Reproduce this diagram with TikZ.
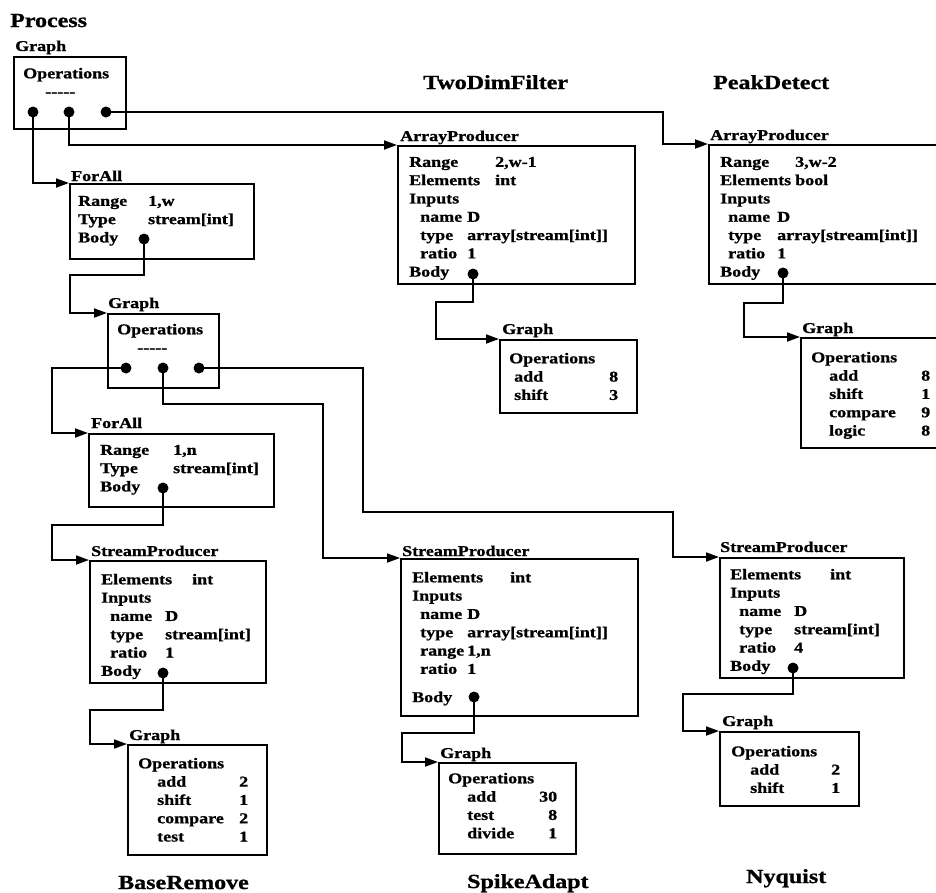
\documentclass[tikz,border=0pt]{standalone}
\usepackage{fontspec}
\setmainfont{Liberation Serif}[FakeStretch=1.2, BoldFeatures={FakeBold=1}]
\usetikzlibrary{arrows.meta}
\newcommand{\dashes}{\hbox{-}\hbox{-}\hbox{-}\hbox{-}\hbox{-}}
\newcommand{\kv}[3]{\makebox[#1][l]{#2}#3}
\newcommand{\op}[3]{\makebox[#1][l]{#2\hfill #3}}
\begin{document}
\begin{tikzpicture}[x=1pt,y=-1pt,
  box/.style={draw, line width=1.9pt, rectangle, inner sep=0pt, anchor=north west},
  lbl/.style={anchor=base west, inner sep=0pt, font=\fontsize{15}{18.3}\selectfont\bfseries},
  txt/.style={anchor=north west, inner sep=0pt, align=left, font=\fontsize{15}{18.3}\selectfont\bfseries},
  ttl/.style={anchor=base west, inner sep=0pt, font=\fontsize{20}{24}\selectfont\bfseries},
  dot/.style={circle, fill, inner sep=0pt, minimum size=11pt},
  conn/.style={line width=1.9pt, -{Triangle[length=13pt,width=9pt]}},
]
\useasboundingbox (0,0) rectangle (936,892);
\clip (0,0) rectangle (936,892);

% titles
\node[ttl] (tProcess) at (10,27) {Process};
\node[ttl] (tTwo) at (423,89) {TwoDimFilter};
\node[ttl] (tPeak) at (713,89) {PeakDetect};
\node[ttl] (tBase) at (118,889) {BaseRemove};
\node[ttl] (tSpike) at (467,888) {SpikeAdapt};
\node[ttl] (tNyq) at (746,883) {Nyquist};

% top graph
\node[box, minimum width=112pt, minimum height=72pt] (g0) at (13,56) {};
\node[lbl] (g0l) at (15,51) {Graph};
\node[txt] (g0t) at (23,67.7) {Operations\\\hspace{22pt}\dashes};
\node[dot] (g0d1) at (33,112) {};
\node[dot] (g0d2) at (69,112) {};
\node[dot] (g0d3) at (106,112) {};

% ForAll 1
\node[box, minimum width=184pt, minimum height=75pt] (fa1) at (69,183) {};
\node[lbl] (fa1l) at (71,181) {ForAll};
\node[txt] (fa1t) at (78,195.7) {\kv{70pt}{Range}{1,w}\\\kv{70pt}{Type}{stream[int]}\\Body};
\node[dot] (fa1d) at (144,239) {};

% ArrayProducer 1
\node[box, minimum width=237pt, minimum height=138pt] (ap1) at (397,145) {};
\node[lbl] (ap1l) at (400,141) {ArrayProducer};
\node[txt] (ap1t) at (409,156.7) {\kv{86pt}{Range}{2,w-1}\\\kv{86pt}{Elements}{int}\\Inputs\\
\hspace{11pt}\kv{47pt}{name}{D}\\\hspace{11pt}\kv{47pt}{type}{array[stream[int]]}\\\hspace{11pt}\kv{47pt}{ratio}{1}\\Body};
\node[dot] (ap1d) at (473,274) {};

% ArrayProducer 2
\node[box, minimum width=250pt, minimum height=139pt] (ap2) at (708,144) {};
\node[lbl] (ap2l) at (710,140) {ArrayProducer};
\node[txt] (ap2t) at (720,156.7) {\kv{75pt}{Range}{3,w-2}\\\kv{75pt}{Elements}{bool}\\Inputs\\
\hspace{8pt}\kv{49pt}{name}{D}\\\hspace{8pt}\kv{49pt}{type}{array[stream[int]]}\\\hspace{8pt}\kv{49pt}{ratio}{1}\\Body};
\node[dot] (ap2d) at (783,273) {};

% Graph under AP1
\node[box, minimum width=137pt, minimum height=73pt] (g2) at (499,339) {};
\node[lbl] (g2l) at (502,334) {Graph};
\node[txt] (g2t) at (509,352.7) {Operations\\\hspace{5pt}\op{104pt}{add}{8}\\\hspace{5pt}\op{104pt}{shift}{3}};

% Graph under AP2
\node[box, minimum width=150pt, minimum height=110pt] (g3) at (800,337) {};
\node[lbl] (g3l) at (802,333) {Graph};
\node[txt] (g3t) at (811,351.7) {Operations\\\hspace{18pt}\op{101pt}{add}{8}\\\hspace{18pt}\op{101pt}{shift}{1}\\
\hspace{18pt}\op{101pt}{compare}{9}\\\hspace{18pt}\op{101pt}{logic}{8}};

% second graph
\node[box, minimum width=111pt, minimum height=74pt] (g1) at (107,313) {};
\node[lbl] (g1l) at (108,308) {Graph};
\node[txt] (g1t) at (117,323.7) {Operations\\\hspace{20pt}\dashes};
\node[dot] (g1d1) at (126,368) {};
\node[dot] (g1d2) at (163,368) {};
\node[dot] (g1d3) at (199,368) {};

% ForAll 2
\node[box, minimum width=185pt, minimum height=73pt] (fa2) at (88,433) {};
\node[lbl] (fa2l) at (91,428) {ForAll};
\node[txt] (fa2t) at (100,444.7) {\kv{73pt}{Range}{1,n}\\\kv{73pt}{Type}{stream[int]}\\Body};
\node[dot] (fa2d) at (163,488) {};

% StreamProducer 1
\node[box, minimum width=176pt, minimum height=122pt] (sp1) at (89,560) {};
\node[lbl] (sp1l) at (91,556) {StreamProducer};
\node[txt] (sp1t) at (101,573.7) {\kv{91pt}{Elements}{int}\\Inputs\\
\hspace{9pt}\kv{55pt}{name}{D}\\\hspace{9pt}\kv{55pt}{type}{stream[int]}\\\hspace{9pt}\kv{55pt}{ratio}{1}\\Body};
\node[dot] (sp1d) at (163,673) {};

% StreamProducer 2
\node[box, minimum width=237pt, minimum height=157pt] (sp2) at (400,558) {};
\node[lbl] (sp2l) at (402,556) {StreamProducer};
\node[txt] (sp2t) at (412,571.7) {\kv{98pt}{Elements}{int}\\Inputs\\
\hspace{8pt}\kv{47pt}{name}{D}\\\hspace{8pt}\kv{47pt}{type}{array[stream[int]]}\\\hspace{8pt}\kv{47pt}{range}{1,n}\\\hspace{8pt}\kv{47pt}{ratio}{1}\\[10pt]Body};
\node[dot] (sp2d) at (474,697) {};

% StreamProducer 3
\node[box, minimum width=184pt, minimum height=120pt] (sp3) at (719,557) {};
\node[lbl] (sp3l) at (720,552) {StreamProducer};
\node[txt] (sp3t) at (730,568.7) {\kv{100pt}{Elements}{int}\\Inputs\\
\hspace{9pt}\kv{55pt}{name}{D}\\\hspace{9pt}\kv{55pt}{type}{stream[int]}\\\hspace{9pt}\kv{55pt}{ratio}{4}\\Body};
\node[dot] (sp3d) at (793,668) {};

% bottom graphs
\node[box, minimum width=139pt, minimum height=110pt] (g4) at (127,744) {};
\node[lbl] (g4l) at (129,740) {Graph};
\node[txt] (g4t) at (138,757.7) {Operations\\\hspace{19pt}\op{91pt}{add}{2}\\\hspace{19pt}\op{91pt}{shift}{1}\\
\hspace{19pt}\op{91pt}{compare}{2}\\\hspace{19pt}\op{91pt}{test}{1}};

\node[box, minimum width=137pt, minimum height=91pt] (g5) at (438,762) {};
\node[lbl] (g5l) at (440,758) {Graph};
\node[txt] (g5t) at (448,772.7) {Operations\\\hspace{19pt}\op{90pt}{add}{30}\\\hspace{19pt}\op{90pt}{test}{8}\\
\hspace{19pt}\op{90pt}{divide}{1}};

\node[box, minimum width=139pt, minimum height=74pt] (g6) at (719,731) {};
\node[lbl] (g6l) at (722,726) {Graph};
\node[txt] (g6t) at (731,745.7) {Operations\\\hspace{19pt}\op{90pt}{add}{2}\\\hspace{19pt}\op{90pt}{shift}{1}};

% bend coordinates
\coordinate (k3) at (663,112);
\coordinate (b4) at (70,275);
\coordinate (b5) at (52,433);
\coordinate (b6) at (323,404);
\coordinate (b7a) at (363,368);
\coordinate (b7b) at (673,512);
\coordinate (b8) at (52,525);
\coordinate (b9) at (90,710);
\coordinate (b10) at (402,733);
\coordinate (b11) at (683,694);
\coordinate (b12) at (436,302);
\coordinate (b13) at (744,303);

% connectors
\draw[conn] (g0d1.center) |- (fa1.north west);
\draw[conn] (g0d2.center) |- (ap1.north west);
\draw[conn] (g0d3.center) -- (k3) |- (ap2.north west);
\draw[conn] (fa1d.center) |- (b4) |- (g1.north west);
\draw[conn] (g1d1.center) -| (b5) -- (fa2.north west);
\draw[conn] (g1d2.center) |- (b6) |- (sp2.north west);
\draw[conn] (g1d3.center) -- (b7a) |- (b7b) |- (sp3.north west);
\draw[conn] (fa2d.center) |- (b8) |- (sp1.north west);
\draw[conn] (sp1d.center) |- (b9) |- (g4.north west);
\draw[conn] (sp2d.center) |- (b10) |- (g5.north west);
\draw[conn] (sp3d.center) |- (b11) |- (g6.north west);
\draw[conn] (ap1d.center) |- (b12) |- (g2.north west);
\draw[conn] (ap2d.center) |- (b13) |- (g3.north west);
\end{tikzpicture}
\end{document}
